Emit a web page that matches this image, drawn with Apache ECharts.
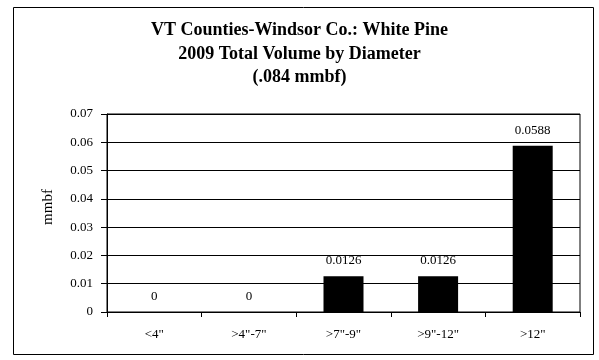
<!DOCTYPE html>
<html><head><meta charset="utf-8">
<script src="https://cdn.jsdelivr.net/npm/echarts@6/dist/echarts.min.js"></script>
<style>html,body{margin:0;padding:0;background:#fff}#c{width:599px;height:360px}</style>
</head><body><div id="c"></div>
<script>
const categories = ['<4"', '>4"-7"', '>7"-9"', '>9"-12"', '>12"'];
const values = [0, 0, 0.0126, 0.0126, 0.0588];
const valueLabels = ['0', '0', '0.0126', '0.0126', '0.0588'];
const yTicks = [0, 0.01, 0.02, 0.03, 0.04, 0.05, 0.06, 0.07];
const titleLines = ['VT Counties-Windsor Co.: White Pine', '2009 Total Volume by Diameter', '(.084 mmbf)'];

const serif = '"Liberation Serif", "DejaVu Serif", serif';
const chart = echarts.init(document.getElementById('c'), null, {renderer: 'canvas'});
chart.setOption({
  animation: false,
  backgroundColor: '#fff',
  graphic: [{
    type: 'rect', left: 11, top: 5, shape: {width: 580, height: 347},
    style: {fill: 'none', stroke: '#000', lineWidth: 1}, silent: true
  }],
  title: {
    text: titleLines.join('\n'),
    left: 'center', top: 19, padding: [0, 0, 0, 6],
    textStyle: {fontFamily: serif, fontSize: 18, fontWeight: 'bold', color: '#000', lineHeight: 23.5}
  },
  grid: {left: 107, right: 19, top: 114, bottom: 48, show: true, borderColor: '#000', borderWidth: 1, containLabel: false},
  xAxis: {
    type: 'category', data: categories,
    axisLine: {lineStyle: {color: '#000', width: 1}},
    axisTick: {show: true, alignWithLabel: false, length: 5, lineStyle: {color: '#000'}},
    axisLabel: {fontFamily: serif, fontSize: 13, color: '#000', margin: 16, interval: 0},
    splitLine: {show: false}
  },
  yAxis: {
    type: 'value', min: yTicks[0], max: yTicks[yTicks.length - 1], interval: 0.01,
    name: 'mmbf', nameLocation: 'middle', nameGap: 51,
    nameTextStyle: {fontFamily: serif, fontSize: 15, color: '#000', padding: [0, 0, 0, 12]},
    axisLine: {show: true, lineStyle: {color: '#000', width: 1}},
    axisTick: {show: true, length: 6, lineStyle: {color: '#000'}},
    axisLabel: {fontFamily: serif, fontSize: 13, color: '#000', margin: 14,
      formatter: v => { const r = Math.round(v * 100) / 100; return r === 0 ? '0' : r.toFixed(2); }},
    splitLine: {show: true, lineStyle: {color: '#000', width: 1}}
  },
  series: [{
    type: 'bar', data: values, barWidth: 40,
    itemStyle: {color: '#000'},
    label: {show: true, position: 'top', distance: 9, fontFamily: serif, fontSize: 13, color: '#000',
      formatter: p => valueLabels[p.dataIndex]}
  }]
});
</script></body></html>
